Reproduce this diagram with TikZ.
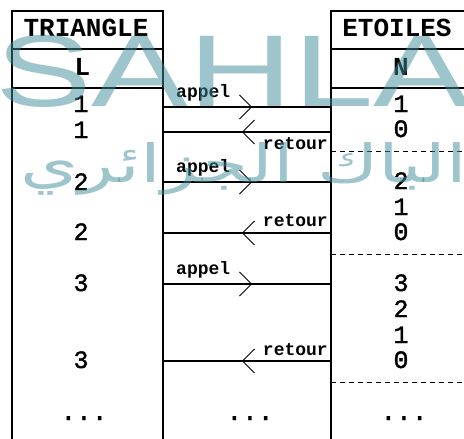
\documentclass[tikz,border=0pt]{standalone}
\usepackage{fontspec}
\usepackage{graphicx}
\usetikzlibrary{arrows.meta,decorations.markings}
\TeXXeTstate=1
\setmainfont{Liberation Serif}
\newfontfamily\monofont{Liberation Mono}
\newfontfamily\digitfont{Liberation Mono}[FakeBold=1.5]
\newfontfamily\wmfont{Liberation Sans}
\newfontfamily\arabicfont[Script=Arabic]{DejaVu Sans}
\definecolor{wm}{RGB}{65,141,155}
\tikzset{
  box/.style={draw, line width=1.4pt, outer sep=0pt, inner sep=0pt, anchor=north west},
  sep/.style={line width=1.4pt},
  dsep/.style={line width=0.9pt, dash pattern=on 5pt off 4pt},
  call/.style={line width=1.4pt, postaction={decorate},
    decoration={markings, mark=at position 0.53 with {\arrow{Straight Barb[length=12pt,width=24pt,line width=0.9pt]}}}},
  hdr/.style={font=\monofont\bfseries\fontsize{26}{26}\selectfont, inner sep=0pt, anchor=base},
  lbl/.style={font=\monofont\bfseries\fontsize{18}{18}\selectfont, inner sep=0pt},
  val/.style={font=\digitfont\fontsize{25}{25}\selectfont, inner sep=0pt, anchor=base},
  dots/.style={font=\digitfont\fontsize{26}{26}\selectfont, inner sep=0pt, anchor=base},
  watermark/.style={anchor=base west, inner sep=0pt, text=wm, text opacity=0.5},
}
\begin{document}
\begin{tikzpicture}[x=1pt,y=-1pt]
\path[use as bounding box] (0,0) rectangle (464,439);
\clip (0,0) rectangle (464,439);
\fill[white] (0,0) rectangle (464,439);
% boxes
\node[box, minimum width=151pt, minimum height=445pt] (L) at (12,11) {};
\node[box, minimum width=200pt, minimum height=445pt] (R) at (331,11) {};
\draw[sep] (L.west |- 0,49) -- (L.east |- 0,49);
\draw[sep] (L.west |- 0,88) -- (L.east |- 0,88);
\draw[sep] (R.west |- 0,49) -- (R.east |- 0,49);
\draw[sep] (R.west |- 0,88) -- (R.east |- 0,88);
\draw[dsep] (R.west |- 0,151) -- (R.east |- 0,151);
\draw[dsep] (R.west |- 0,254) -- (R.east |- 0,254);
\draw[dsep] (R.west |- 0,382) -- (R.east |- 0,382);
% headers
\node[hdr] (hL) at (86,36) {TRIANGLE};
\node[hdr] (hR) at (397,36) {ETOILES};
\node[hdr] (vL) at (82.5,75) {L};
\node[hdr] (vR) at (401,75) {N};
% calls and returns
\draw[call] (L.east |- 0,107) -- (R.west |- 0,107);
\draw[call] (R.west |- 0,132) -- (L.east |- 0,132);
\draw[call] (L.east |- 0,182) -- (R.west |- 0,182);
\draw[call] (R.west |- 0,233) -- (L.east |- 0,233);
\draw[call] (L.east |- 0,284) -- (R.west |- 0,284);
\draw[call] (R.west |- 0,361) -- (L.east |- 0,361);
\node[lbl, anchor=base west] (a1) at (176,97) {appel};
\node[lbl, anchor=base west] (a2) at (176,172) {appel};
\node[lbl, anchor=base west] (a3) at (176,274) {appel};
\node[lbl, anchor=base east] (r1) at (328,149) {retour};
\node[lbl, anchor=base east] (r2) at (328,226) {retour};
\node[lbl, anchor=base east] (r3) at (328,355) {retour};
% left values
\node[val] (l1) at (81,112) {1};
\node[val] (l2) at (81,138) {1};
\node[val] (l3) at (81,190) {2};
\node[val] (l4) at (81,240) {2};
\node[val] (l5) at (81,291) {3};
\node[val] (l6) at (81,368) {3};
\node[dots] (ld) at (84,420) {...};
% right values
\node[val] (n1) at (401,112) {1};
\node[val] (n2) at (401,137) {0};
\node[val] (n3) at (401,189) {2};
\node[val] (n4) at (401,215) {1};
\node[val] (n5) at (401,240) {0};
\node[val] (n6) at (401,291) {3};
\node[val] (n7) at (401,317) {2};
\node[val] (n8) at (401,343) {1};
\node[val] (n9) at (401,368) {0};
\node[dots] (nd) at (404,420) {...};
\node[dots] (md) at (250,420) {...};
% watermark (semi-transparent, on top)
\node[watermark, xscale=1.42, font=\wmfont\fontsize{102}{102}\selectfont] (wmark) at (-5,106) {SAHLA};
\node[watermark] (wmarab) at (20,182) {\resizebox{447pt}{40pt}{\arabicfont\beginR الباك الجزائري\endR}};
\end{tikzpicture}
\end{document}
